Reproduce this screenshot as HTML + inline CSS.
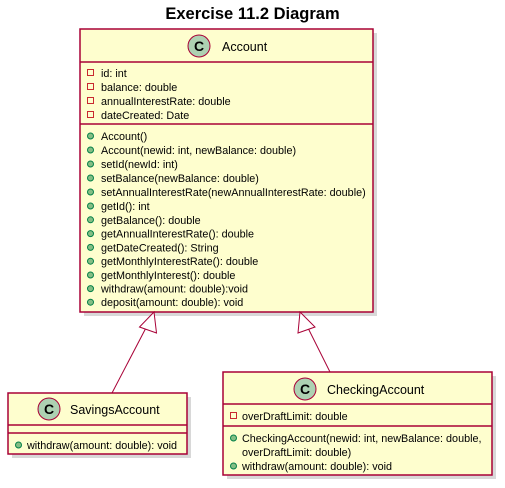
<!DOCTYPE html>
<html><head><meta charset="utf-8"><style>
html,body{margin:0;padding:0;background:#fff;}
svg{display:block;}
text{font-family:"Liberation Sans",sans-serif;fill:#000;}
.m{font-size:10.8px;}
.n{font-size:12.5px;}
.box{fill:#FEFECE;stroke:#A80036;stroke-width:1.5;}
.sh{fill:#c8c8c8;opacity:0.7;}
.sep{stroke:#A80036;stroke-width:1.5;}
.pub{fill:#84BE84;stroke:#038048;stroke-width:1;}
.pri{fill:none;stroke:#C82930;stroke-width:1;}
.ci{fill:#ADD1B2;stroke:#A80036;stroke-width:1;}
.cc{font-size:14px;font-weight:bold;}
</style></head><body>
<svg width="505" height="488" viewBox="0 0 505 488" xmlns="http://www.w3.org/2000/svg">
<text x="252.5" y="19" text-anchor="middle" style="font-size:16.5px;font-weight:bold;">Exercise 11.2 Diagram</text>

<!-- Account -->
<rect class="sh" x="84" y="33" width="293" height="283"/>
<rect class="box" x="80" y="29" width="293" height="283"/>
<line class="sep" x1="80" y1="62" x2="373" y2="62"/>
<line class="sep" x1="80" y1="124" x2="373" y2="124"/>
<circle class="ci" cx="199" cy="46" r="11"/>
<text class="cc" x="199" y="51" text-anchor="middle">C</text>
<text class="n" x="222" y="51">Account</text>
<g>
<rect class="pri" x="87.5" y="69.5" width="6" height="6"/>
<rect class="pri" x="87.5" y="83.5" width="6" height="6"/>
<rect class="pri" x="87.5" y="97.5" width="6" height="6"/>
<rect class="pri" x="87.5" y="111.5" width="6" height="6"/>
</g>
<g class="m">
<text x="101" y="77">id: int</text>
<text x="101" y="91">balance: double</text>
<text x="101" y="105">annualInterestRate: double</text>
<text x="101" y="119">dateCreated: Date</text>
</g>
<g class="m">
<circle class="pub" cx="90.5" cy="136" r="3"/><text x="101" y="140">Account()</text>
<circle class="pub" cx="90.5" cy="150" r="3"/><text x="101" y="154">Account(newid: int, newBalance: double)</text>
<circle class="pub" cx="90.5" cy="164" r="3"/><text x="101" y="168">setId(newId: int)</text>
<circle class="pub" cx="90.5" cy="178" r="3"/><text x="101" y="182">setBalance(newBalance: double)</text>
<circle class="pub" cx="90.5" cy="192" r="3"/><text x="101" y="196">setAnnualInterestRate(newAnnualInterestRate: double)</text>
<circle class="pub" cx="90.5" cy="206" r="3"/><text x="101" y="210">getId(): int</text>
<circle class="pub" cx="90.5" cy="219.8" r="3"/><text x="101" y="223.8">getBalance(): double</text>
<circle class="pub" cx="90.5" cy="233.6" r="3"/><text x="101" y="237.6">getAnnualInterestRate(): double</text>
<circle class="pub" cx="90.5" cy="247.4" r="3"/><text x="101" y="251.4">getDateCreated(): String</text>
<circle class="pub" cx="90.5" cy="261.2" r="3"/><text x="101" y="265.2">getMonthlyInterestRate(): double</text>
<circle class="pub" cx="90.5" cy="275" r="3"/><text x="101" y="279">getMonthlyInterest(): double</text>
<circle class="pub" cx="90.5" cy="288.6" r="3"/><text x="101" y="292.6">withdraw(amount: double):void</text>
<circle class="pub" cx="90.5" cy="302.2" r="3"/><text x="101" y="306.2">deposit(amount: double): void</text>
</g>

<!-- connectors -->
<line x1="112" y1="393" x2="148" y2="324" stroke="#A80036" stroke-width="1"/>
<polygon points="154,312 139.5,327 156.5,333" fill="#fff" stroke="#A80036" stroke-width="1"/>
<line x1="330" y1="372" x2="306" y2="324" stroke="#A80036" stroke-width="1"/>
<polygon points="300,312 298,333 315,327" fill="#fff" stroke="#A80036" stroke-width="1"/>

<!-- SavingsAccount -->
<rect class="sh" x="12" y="397" width="179" height="61"/>
<rect class="box" x="8" y="393" width="179" height="61"/>
<line class="sep" x1="8" y1="425" x2="187" y2="425"/>
<line class="sep" x1="8" y1="433" x2="187" y2="433"/>
<circle class="ci" cx="49" cy="409" r="11"/>
<text class="cc" x="49" y="414" text-anchor="middle">C</text>
<text class="n" x="70" y="414">SavingsAccount</text>
<circle class="pub" cx="18.5" cy="445" r="3"/><text class="m" x="27" y="449">withdraw(amount: double): void</text>

<!-- CheckingAccount -->
<rect class="sh" x="227" y="376" width="269" height="103"/>
<rect class="box" x="223" y="372" width="269" height="103"/>
<line class="sep" x1="223" y1="404" x2="492" y2="404"/>
<line class="sep" x1="223" y1="426" x2="492" y2="426"/>
<circle class="ci" cx="305" cy="389" r="11"/>
<text class="cc" x="305" y="394" text-anchor="middle">C</text>
<text class="n" x="327" y="394">CheckingAccount</text>
<rect class="pri" x="230.5" y="412.5" width="6" height="6"/><text class="m" x="242" y="420">overDraftLimit: double</text>
<circle class="pub" cx="233.5" cy="438" r="3"/><text class="m" x="242" y="442">CheckingAccount(newid: int, newBalance: double,</text>
<text class="m" x="242" y="456">overDraftLimit: double)</text>
<circle class="pub" cx="233.5" cy="466" r="3"/><text class="m" x="242" y="470">withdraw(amount: double): void</text>
</svg>
</body></html>
